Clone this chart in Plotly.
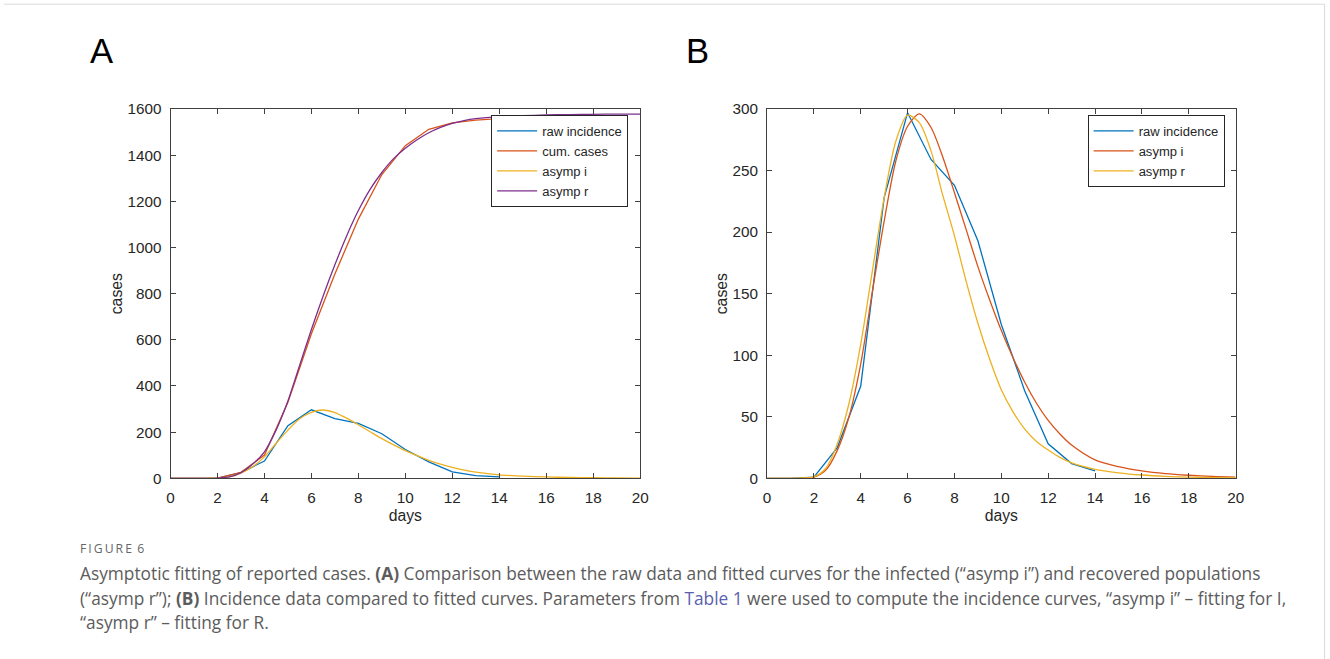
import plotly.graph_objects as go

# ---- data -------------------------------------------------------------
obs_days = [0, 1, 2, 3, 4, 5, 6, 7, 8, 9, 10, 11, 12, 13, 14]
raw_incidence = [0, 0, 1, 25, 75, 228, 297, 259, 238, 193, 125, 71, 28, 12, 6]
cum_cases = [0, 0, 1, 26, 101, 329, 626, 885, 1123, 1316, 1441, 1512, 1540, 1552, 1558]

fit_days = [0, 1, 1.5, 2, 2.5, 3, 3.5, 4, 4.5, 5, 5.5, 6, 6.5, 7, 7.5, 8, 8.5,
            9, 9.5, 10, 10.5, 11, 11.5, 12, 12.5, 13, 14, 15, 16, 17, 18, 19, 20]
asymp_i = [0, 0, 0.2, 1, 6.5, 22.7, 50, 93, 152, 209, 258, 286, 296, 285, 261,
           232, 202, 172, 145, 120, 98, 78, 61, 47, 36, 27, 15, 9.5, 6, 3.8, 2.5, 1.6, 1]
asymp_r_inc = [0, 0, 0.3, 1.2, 8, 28, 61, 109, 169, 228, 274, 295, 289, 266, 230,
               197, 160, 126, 97, 72, 54, 40, 30, 23, 17, 12.5, 7.3, 4.5, 2.7, 1.6, 1, 0.6, 0.3]
asymp_r_cum = [0, 0, 0, 1, 6, 25, 62, 115, 210, 335, 490, 645, 790, 925, 1050,
               1160, 1252, 1325, 1385, 1430, 1467, 1497, 1520, 1538, 1550, 1558,
               1567, 1571, 1574, 1576, 1577, 1578, 1578]

x_ticks = [0, 2, 4, 6, 8, 10, 12, 14, 16, 18, 20]
y_ticks_a = [0, 200, 400, 600, 800, 1000, 1200, 1400, 1600]
y_ticks_b = [0, 50, 100, 150, 200, 250, 300]

# MATLAB default line colours
BLUE, ORANGE, YELLOW, PURPLE = "#0072BD", "#D95319", "#EDB120", "#7E2F8E"

# layout grid: positions are given on a 1330x659 sheet; the page adds an
# 8px body margin and the sheet maps onto a 1346x675 page area
SHEET_W, SHEET_H = 1330, 659
PAGE_W, PAGE_H, BODY = 1346, 675, 8
W, H = PAGE_W - BODY, PAGE_H - BODY
SX, SY = PAGE_W / SHEET_W, PAGE_H / SHEET_H
FS = (SX + SY) / 2  # font scale

def px(x):
    return (((x + 4.6) / 1.0038) * SX - BODY) / W
def py(y):
    return 1 - (y * SY - BODY) / H
def fs(size):
    return round(size * FS, 2)

fig = go.Figure()

def line(x, y, name, color, xa, ya, legend, smooth=False):
    fig.add_trace(go.Scatter(
        x=x, y=y, name=name, mode="lines", xaxis=xa, yaxis=ya, legend=legend,
        line=dict(color=color, width=1.3, shape="spline" if smooth else "linear",
                  smoothing=0.8 if smooth else None),
    ))

# panel A
line(obs_days, raw_incidence, "raw incidence", BLUE, "x", "y", "legend")
line(obs_days, cum_cases, "cum. cases", ORANGE, "x", "y", "legend")
line(fit_days, asymp_i, "asymp i", YELLOW, "x", "y", "legend", smooth=True)
line(fit_days, asymp_r_cum, "asymp r", PURPLE, "x", "y", "legend", smooth=True)

# panel B
line(obs_days, raw_incidence, "raw incidence", BLUE, "x2", "y2", "legend2")
line(fit_days, asymp_i, "asymp i", ORANGE, "x2", "y2", "legend2", smooth=True)
line(fit_days, asymp_r_inc, "asymp r", YELLOW, "x2", "y2", "legend2", smooth=True)

SANS = "Liberation Sans, Arial, sans-serif"
AX_FONT = dict(family=SANS, size=fs(15), color="#262626")
TITLE_FONT = dict(family=SANS, size=fs(15.5), color="#262626")

def axis(domain, rng, ticks, title, anchor, standoff):
    return dict(
        domain=domain, range=rng, tickvals=ticks, ticks="inside", ticklen=5,
        tickwidth=1, tickcolor="#404040", showline=True, linecolor="#404040",
        linewidth=1, mirror="ticks", showgrid=False, zeroline=False,
        tickfont=AX_FONT, anchor=anchor, ticklabelstandoff=5,
        title=dict(text=title, font=TITLE_FONT, standoff=standoff),
    )

ydom = [py(478), py(108)]
fig.update_layout(
    width=W, height=H, margin=dict(l=0, r=0, t=0, b=0),
    paper_bgcolor="white", plot_bgcolor="white",
    xaxis=axis([px(170), px(640)], [0, 20], x_ticks, "days", "y", 5),
    yaxis=axis(ydom, [0, 1600], y_ticks_a, "cases", "x", 0),
    xaxis2=axis([px(767), px(1236)], [0, 20], x_ticks, "days", "y2", 5),
    yaxis2=axis(ydom, [0, 300], y_ticks_b, "cases", "x2", 0),
)

LEG = dict(xanchor="right", yanchor="top", bgcolor="white", bordercolor="#262626",
           borderwidth=1, font=dict(family=SANS, size=fs(12.8), color="#262626"),
           itemwidth=40, tracegroupgap=0)
fig.update_layout(
    legend=dict(x=px(628), y=py(114), **LEG),
    legend2=dict(x=px(1225), y=py(114), **LEG),
)

# panel letters
for letter, xpos in (("A", 101), ("B", 697)):
    fig.add_annotation(text=letter, x=px(xpos), y=py(50), xref="paper", yref="paper",
                       showarrow=False, xanchor="center", yanchor="middle",
                       font=dict(family=SANS, size=fs(34), color="black"))

# caption
CAP_X = 77
CAP = dict(family="Open Sans, sans-serif", size=fs(17.0), color="#5c5c5c")
fig.add_annotation(text="F\u2009I\u2009G\u2009U\u2009R\u2009E\u2009 6", x=px(CAP_X), y=py(548),
                   xref="paper", yref="paper", showarrow=False, xanchor="left",
                   yanchor="middle",
                   font=dict(family="Open Sans, sans-serif", size=fs(12), color="#666666"))
caption_lines = [
    "Asymptotic fitting of reported cases. <b>(A)</b> Comparison between the raw data "
    "and fitted curves for the infected (“asymp i”) and recovered populations",
    "(“asymp r”); <b>(B)</b> Incidence data compared to fitted curves. Parameters from "
    "<span style='color:#5b5fb0'>Table 1</span> were used to compute the incidence "
    "curves, “asymp i” – fitting for I,",
    "“asymp r” – fitting for R.",
]
for txt, yy in zip(caption_lines, (573, 598, 622)):
    fig.add_annotation(text=txt, x=px(CAP_X), y=py(yy), xref="paper", yref="paper",
                       showarrow=False, xanchor="left", yanchor="middle", font=CAP)

# thin frame along the top and right edge of the sheet
fig.add_shape(type="line", xref="paper", yref="paper", x0=0, x1=px(1325),
              y0=py(3), y1=py(3), line=dict(color="#dadada", width=1))
fig.add_shape(type="line", xref="paper", yref="paper", x0=px(1325), x1=px(1325),
              y0=py(3), y1=py(659), line=dict(color="#dadada", width=1))

fig.write_html("out.html")
